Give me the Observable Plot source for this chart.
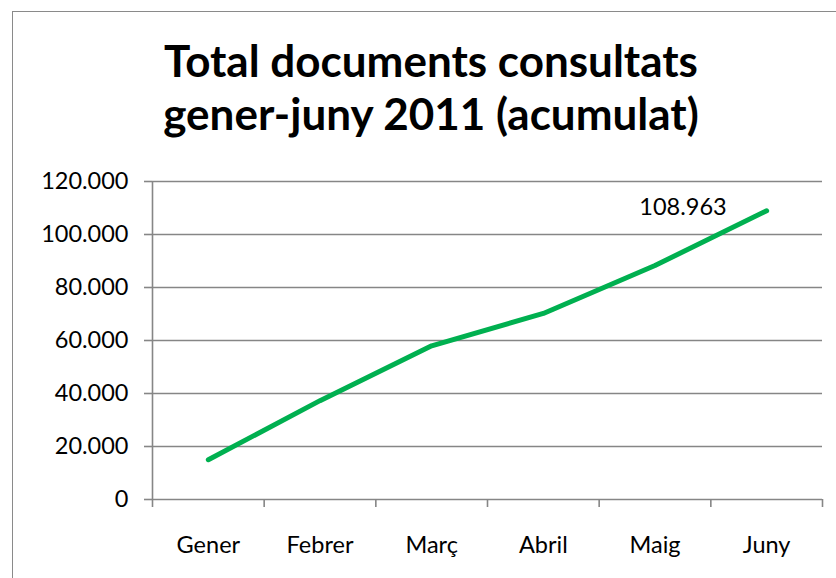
<!DOCTYPE html>
<html>
<head>
<meta charset="utf-8">
<script src="https://cdn.jsdelivr.net/npm/d3@7"></script>
<script src="https://cdn.jsdelivr.net/npm/@observablehq/plot@0.6"></script>
<style>
  html, body { margin: 0; padding: 0; background: #fff; }
  body { width: 836px; height: 578px; position: relative; overflow: hidden; }
  #frame { position: absolute; left: 12px; top: 11px; width: 900px; height: 700px; border: 1.5px solid #8a8a8a; box-sizing: border-box; }
  #title { position: absolute; left: 0; top: 34px; width: 862px; text-align: center; font-family: Lato, sans-serif; font-weight: bold; font-size: 44px; line-height: 53px; color: #000; white-space: nowrap; }
  #chart { position: absolute; left: 0; top: 160px; }
</style>
</head>
<body>
<div id="frame"></div>
<div id="title"><div>Total documents consultats</div><div>gener-juny 2011 (acumulat)</div></div>
<div id="chart"></div>
<script>
const months = ["Gener", "Febrer", "Març", "Abril", "Maig", "Juny"];
const values = [15000, 37300, 58000, 70200, 88300, 108963];
const yTicks = [0, 20000, 40000, 60000, 80000, 100000, 120000];
const labelIndex = 5;

const data = months.map((m, i) => ({i, month: m, value: values[i]}));
const fmt = d => d3.format(",")(d).replace(/,/g, ".");
const boundaries = d3.range(months.length + 1).map(k => k - 0.5);

const chart = Plot.plot({
  width: 836,
  height: 418,
  marginLeft: 152,
  marginRight: 14,
  marginTop: 21,
  marginBottom: 79,
  style: {fontFamily: "Lato, sans-serif", fontSize: "23.5px", color: "#000", background: "transparent"},
  x: {type: "linear", domain: [-0.5, months.length - 0.5]},
  y: {domain: [0, 120000]},
  marks: [
    Plot.gridY(yTicks, {stroke: "#868686", strokeOpacity: 1, strokeWidth: 1.6}),
    Plot.ruleX([-0.5], {stroke: "#868686", strokeWidth: 1.6}),
    Plot.axisY(yTicks, {tickSize: 8, tickPadding: 16, tickFormat: fmt, stroke: "#868686", strokeWidth: 1.6, label: null}),
    Plot.axisX(boundaries, {tickSize: 8, tickFormat: () => "", stroke: "#868686", strokeWidth: 1.6, label: null}),
    Plot.axisX(data.map(d => d.i), {tickSize: 0, tickPadding: 37, tickFormat: i => months[i], label: null}),
    Plot.line(data, {x: "i", y: "value", stroke: "#00B050", strokeWidth: 5, strokeLinecap: "round", strokeLinejoin: "round"}),
    Plot.text([data[labelIndex]], {x: "i", y: "value", text: d => fmt(d.value), textAnchor: "end", dx: -40, dy: -3, fontSize: 23.5, fill: "#000"})
  ]
});
document.getElementById("chart").appendChild(chart);
</script>
</body>
</html>
